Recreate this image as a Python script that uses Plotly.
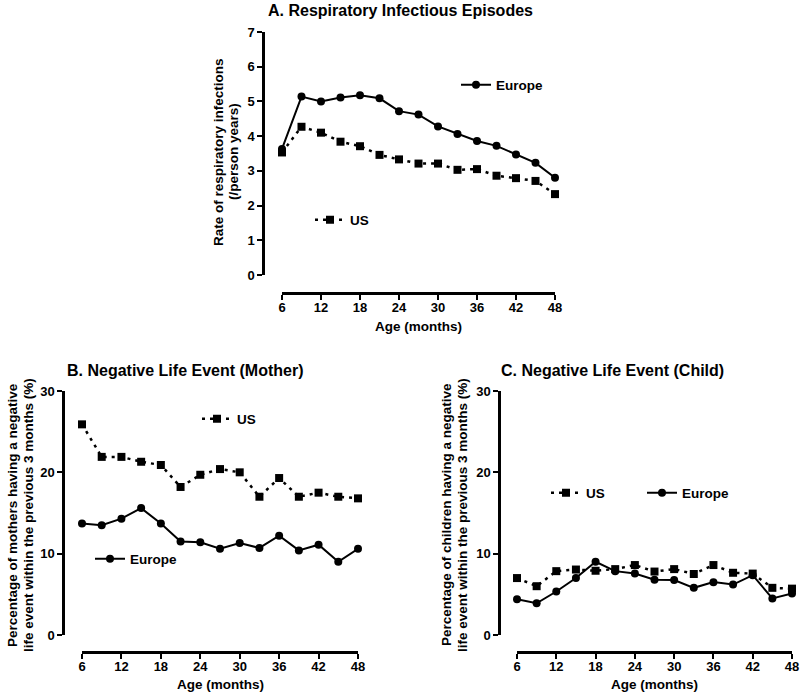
import plotly.graph_objects as go

W, H = 800, 694

age = [6, 9, 12, 15, 18, 21, 24, 27, 30, 33, 36, 39, 42, 45, 48]
x_ticks = [6, 12, 18, 24, 30, 36, 42, 48]

# Panel A: rate of respiratory infections (/person years)
a_europe = [3.63, 5.14, 5.00, 5.11, 5.18, 5.09, 4.72, 4.62, 4.28, 4.06, 3.86, 3.72, 3.47, 3.23, 2.80]
a_us = [3.53, 4.27, 4.10, 3.84, 3.71, 3.46, 3.33, 3.21, 3.21, 3.03, 3.05, 2.86, 2.79, 2.71, 2.33]

# Panel B: negative life event (mother), %
b_us = [25.9, 21.9, 21.9, 21.3, 20.9, 18.2, 19.7, 20.4, 20.0, 17.0, 19.3, 17.0, 17.5, 17.0, 16.8]
b_europe = [13.7, 13.5, 14.3, 15.6, 13.7, 11.5, 11.4, 10.6, 11.3, 10.7, 12.2, 10.4, 11.1, 9.0, 10.6]

# Panel C: negative life event (child), %
c_us = [7.0, 6.0, 7.85, 8.05, 7.9, 8.1, 8.6, 7.8, 8.1, 7.5, 8.6, 7.65, 7.55, 5.8, 5.7]
c_europe = [4.4, 3.9, 5.35, 7.0, 9.0, 7.85, 7.55, 6.8, 6.75, 5.8, 6.5, 6.2, 7.35, 4.5, 5.1]

FONT = "Liberation Sans, Arial, sans-serif"


def px(x):
    return x / W


def py(y):
    return 1 - y / H


fig = go.Figure()

dot = "3px,5px"


def add_series(xref, yref, yvals, kind, name, legend):
    if kind == "europe":
        line = dict(color="black", width=2)
        marker = dict(symbol="circle", size=8, color="black")
    else:
        line = dict(color="black", width=2.5, dash=dot)
        marker = dict(symbol="square", size=8, color="black")
    fig.add_trace(go.Scatter(
        x=age, y=yvals, xaxis=xref, yaxis=yref, mode="lines+markers",
        line=line, marker=marker, name=name, legend=legend,
        cliponaxis=False, showlegend=True,
    ))


add_series("x", "y", a_europe, "europe", "Europe", "legend")
add_series("x", "y", a_us, "us", "US", "legend2")
add_series("x2", "y2", b_us, "us", "US", "legend3")
add_series("x2", "y2", b_europe, "europe", "Europe", "legend4")
add_series("x3", "y3", c_us, "us", "US", "legend5")
add_series("x3", "y3", c_europe, "europe", "Europe", "legend6")

tickfont = dict(family=FONT, size=13, color="black", weight="bold")
axis_common = dict(showline=True, linecolor="black", linewidth=2.5,
                   ticks="outside", ticklen=5, tickwidth=2, tickcolor="black",
                   showgrid=False, zeroline=False, tickfont=tickfont, automargin=False)

# Panel geometry (pixels)
panels = {
    "A": dict(x0=282, x1=555, y_top=32, y_bot=275, xline=293, yline=263, yr=[0, 7], dt=1),
    "B": dict(x0=82, x1=358, y_top=391, y_bot=635, xline=652, yline=63, yr=[0, 30], dt=10),
    "C": dict(x0=517, x1=792, y_top=391, y_bot=635, xline=652, yline=499, yr=[0, 30], dt=10),
}

names = {"A": ("xaxis", "yaxis"), "B": ("xaxis2", "yaxis2"), "C": ("xaxis3", "yaxis3")}

for k, p in panels.items():
    xa, ya = names[k]
    fig.layout[xa] = dict(axis_common, domain=[px(p["x0"]), px(p["x1"])], range=[6, 48],
                          tickvals=x_ticks, anchor="free", position=py(p["xline"]),
                          ticklabelstandoff=-3)
    fig.layout[ya] = dict(axis_common, domain=[py(p["y_bot"]), py(p["y_top"])], range=p["yr"],
                          dtick=p["dt"], tick0=0, anchor="free", position=px(p["yline"]))

legfont = dict(family=FONT, size=13.5, color="black", weight="bold")


def leg(x_text, y):
    return dict(x=px(x_text - 40), y=py(y), xanchor="left", yanchor="middle",
                bgcolor="rgba(0,0,0,0)", font=legfont, itemwidth=30,
                borderwidth=0, tracegroupgap=0)


fig.update_layout(
    legend=leg(496, 85),
    legend2=leg(350, 220),
    legend3=leg(237, 419),
    legend4=leg(130, 559),
    legend5=leg(586, 493),
    legend6=leg(682, 493),
)

ann = []
titlefont = dict(family=FONT, size=16, color="black", weight="bold")
labfont = dict(family=FONT, size=13.5, color="black", weight="bold")

ann.append(dict(text="A. Respiratory Infectious Episodes", x=px(400), y=py(10),
                xanchor="center", yanchor="middle", font=titlefont))
ann.append(dict(text="B. Negative Life Event (Mother)", x=px(185), y=py(370),
                xanchor="center", yanchor="middle", font=titlefont))
ann.append(dict(text="C. Negative Life Event (Child)", x=px(612), y=py(370),
                xanchor="center", yanchor="middle", font=titlefont))

for xc, y in [(418, 326), (220, 684), (654, 684)]:
    ann.append(dict(text="Age (months)", x=px(xc), y=py(y), xanchor="center",
                    yanchor="middle", font=labfont))

ylabels = [
    (218, 152, "Rate of respiratory infections"),
    (233, 152, "(/person years)"),
    (12, 515, "Percentage of mothers having a negative"),
    (28, 515, "life event within the previous 3 months (%)"),
    (446, 515, "Percentage of children having a negative"),
    (462, 515, "life event within the previous 3 months (%)"),
]
for xc, yc, t in ylabels:
    ann.append(dict(text=t, x=px(xc), y=py(yc), xanchor="center", yanchor="middle",
                    textangle=-90, font=labfont))

for a in ann:
    a.update(xref="paper", yref="paper", showarrow=False)

fig.update_layout(
    annotations=ann,
    width=W, height=H,
    margin=dict(l=0, r=0, t=0, b=0, autoexpand=False),
    paper_bgcolor="white", plot_bgcolor="white",
    font=dict(family=FONT, color="black"),
)

fig.write_html("out.html", config={"displayModeBar": False},
               post_script="document.body.style.margin='0px';document.body.style.overflow='hidden';")
